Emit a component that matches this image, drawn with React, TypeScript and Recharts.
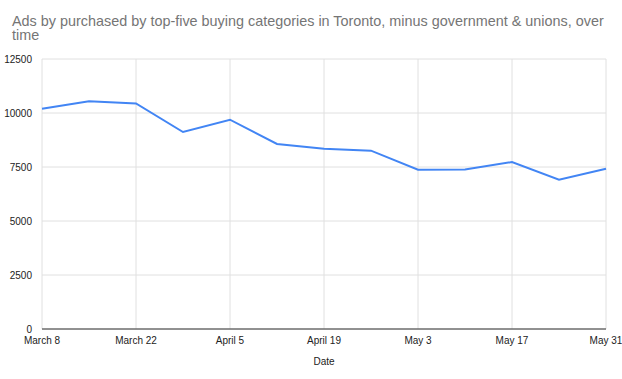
import React from 'react';
import { LineChart, Line, XAxis, YAxis, CartesianGrid, Label } from 'recharts';

const DATES = [
  'March 8', 'March 15', 'March 22', 'March 29', 'April 5', 'April 12', 'April 19',
  'April 26', 'May 3', 'May 10', 'May 17', 'May 24', 'May 31',
];
const ADS = [10200, 10540, 10440, 9120, 9690, 8565, 8350, 8255, 7375, 7390, 7730, 6910, 7420];
const Y_TICKS = [0, 2500, 5000, 7500, 10000, 12500];

const data = DATES.map((date, i) => ({ date, ads: ADS[i] }));

const tickStyle = { fontSize: 10, fill: '#222', fontFamily: 'Liberation Sans, Arial, sans-serif' };

export default function App() {
  return (
    <div style={{ position: 'absolute', left: 0, top: 0, width: 622, height: 379, background: '#fff' }}>
      <div
        style={{
          position: 'absolute', left: 12, top: 14, width: 600,
          fontFamily: 'Liberation Sans, Arial, sans-serif', fontSize: 14.4, lineHeight: '14px',
          color: '#757575',
        }}
      >
        Ads by purchased by top-five buying categories in Toronto, minus government &amp; unions, over time
      </div>
      <LineChart width={622} height={379} data={data} margin={{ top: 59, right: 16, bottom: 0, left: 0 }}>
        <CartesianGrid stroke="#e0e0e0" syncWithTicks />
        <XAxis
          dataKey="date"
          interval={1}
          tick={tickStyle}
          tickLine={false}
          axisLine={{ stroke: '#333' }}
          tickMargin={2}
          height={50}
        >
          <Label value="Date" position="insideBottom" offset={14} style={{ ...tickStyle, fill: '#222' }} />
        </XAxis>
        <YAxis
          domain={[0, 12500]}
          ticks={Y_TICKS}
          tick={tickStyle}
          tickLine={false}
          axisLine={false}
          width={42}
          tickMargin={4}
        />
        <Line
          type="linear"
          dataKey="ads"
          stroke="#4285f4"
          strokeWidth={2}
          dot={false}
          isAnimationActive={false}
        />
      </LineChart>
    </div>
  );
}
